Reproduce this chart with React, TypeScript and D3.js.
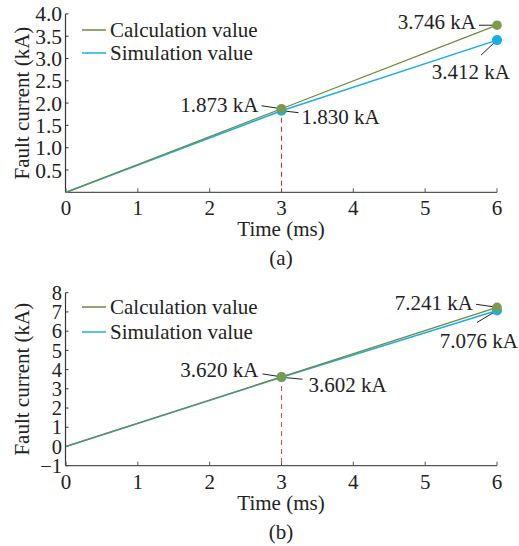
import React from "react";
import * as d3 from "d3";

// time axis (ms)
const timeTicks = [0, 1, 2, 3, 4, 5, 6];

// panel (a)
const timesA = [0, 3, 6];
const calcA = [0, 1.873, 3.746];
const simA = [0, 1.83, 3.412];
const yTicksA = [0.5, 1.0, 1.5, 2.0, 2.5, 3.0, 3.5, 4.0];

// panel (b)
const timesB = [0, 3, 6];
const calcB = [0, 3.62, 7.241];
const simB = [0, 3.602, 7.076];
const yTicksB = [-1, 0, 1, 2, 3, 4, 5, 6, 7, 8];

const GREEN = "#6f8a3c";
const GREEN_DOT = "#7b9a4c";
const BLUE = "#19aee8";
const FONT = "'Liberation Serif', 'Times New Roman', serif";

type Ann = { text: string; t: number; v: number; dx: number; dy: number; anchor: string; lx: number; ly: number };

function Panel({ range, yDomain, yTicks, fmt, times, calc, sim, anns, caption, legY, dash, tickSize }: any) {
  const x = d3.scaleLinear().domain([0, 6]).range([66, 497]);
  const y = d3.scaleLinear().domain(yDomain).range(range);
  const line = d3
    .line<number>()
    .x((_, i) => x(times[i]))
    .y((d) => y(d));
  const y0 = range[0];
  const y1 = range[1];
  const midY = (y0 + y1) / 2;
  return (
    <g fontFamily={FONT} fill="#222">
      {/* axes */}
      <line x1={65.5} x2={65.5} y1={y0} y2={y1} stroke="#333" strokeWidth={1.2} />
      <line x1={65.5} x2={497} y1={y0} y2={y0} stroke="#555" strokeWidth={1.3} />
      {yTicks.map((t: number) => (
        <g key={"y" + t}>
          <line x1={65.5} x2={68.5} y1={y(t)} y2={y(t)} stroke="#333" />
          <text x={62} y={y(t)} dy="0.35em" textAnchor="end" fontSize={tickSize}>
            {fmt(t)}
          </text>
        </g>
      ))}
      {timeTicks.map((t) => (
        <g key={"x" + t}>
          <line x1={x(t)} x2={x(t)} y1={y0} y2={y0 - 4} stroke="#555" />
          <text x={x(t)} y={y0 + 15.5} dy="0.35em" textAnchor="middle" fontSize={21}>
            {t}
          </text>
        </g>
      ))}
      <text x={281} y={y0 + 36.5} dy="0.35em" textAnchor="middle" fontSize={21}>
        Time (ms)
      </text>
      <text x={281} y={y0 + 65.5} dy="0.35em" textAnchor="middle" fontSize={21}>
        {caption}
      </text>
      <text
        transform={`translate(22, ${midY}) rotate(-90)`}
        dy="0.35em"
        textAnchor="middle"
        fontSize={21}
      >
        Fault current (kA)
      </text>
      {/* legend */}
      <line x1={82} x2={106} y1={legY[0]} y2={legY[0]} stroke={GREEN} strokeWidth={1.5} />
      <text x={110} y={legY[0]} dy="0.35em" fontSize={21}>Calculation value</text>
      <line x1={82} x2={106} y1={legY[1]} y2={legY[1]} stroke={BLUE} strokeWidth={1.5} />
      <text x={110} y={legY[1]} dy="0.35em" fontSize={21}>Simulation value</text>
      {/* dashed marker */}
      <line
        x1={x(3)}
        x2={x(3)}
        y1={y(calc[1])}
        y2={y0}
        stroke={dash}
        strokeDasharray="5,4"
        strokeWidth={1.1}
      />
      <path d={line(sim) || ""} fill="none" stroke={BLUE} strokeWidth={1.5} />
      <path d={line(calc) || ""} fill="none" stroke={GREEN} strokeWidth={1.3} />
      {/* leaders and labels */}
      {anns.map((a: Ann, i: number) => (
        <g key={"a" + i}>
          <line x1={x(a.t)} y1={y(a.v)} x2={x(a.t) + a.lx} y2={y(a.v) + a.ly} stroke="#222" strokeWidth={1} />
          <text x={x(a.t) + a.dx} y={y(a.v) + a.dy} dy="0.35em" textAnchor={a.anchor} fontSize={21}>
            {a.text}
          </text>
        </g>
      ))}
      <circle cx={x(6)} cy={y(sim[2])} r={5} fill={BLUE} />
      <circle cx={x(6)} cy={y(calc[2])} r={4.8} fill={GREEN_DOT} />
      <circle cx={x(3)} cy={y(sim[1])} r={5} fill={BLUE} />
      <circle cx={x(3)} cy={y(calc[1])} r={4.8} fill={GREEN_DOT} />
    </g>
  );
}

export default function App() {
  const annsA: Ann[] = [
    { text: "1.873 kA", t: 3, v: calcA[1], dx: -23, dy: -4, anchor: "end", lx: -20, ly: -3 },
    { text: "1.830 kA", t: 3, v: simA[1], dx: 20, dy: 6, anchor: "start", lx: 17, ly: 2 },
    { text: "3.746 kA", t: 6, v: calcA[2], dx: -21, dy: -4, anchor: "end", lx: -18, ly: 0 },
    { text: "3.412 kA", t: 6, v: simA[2], dx: 13, dy: 32, anchor: "end", lx: -16, ly: 15 },
  ];
  const annsB: Ann[] = [
    { text: "3.620 kA", t: 3, v: calcB[1], dx: -23, dy: -7, anchor: "end", lx: -19, ly: -3 },
    { text: "3.602 kA", t: 3, v: simB[1], dx: 27, dy: 7, anchor: "start", lx: 21, ly: 2 },
    { text: "7.241 kA", t: 6, v: calcB[2], dx: -24, dy: -5, anchor: "end", lx: -21, ly: -3 },
    { text: "7.076 kA", t: 6, v: simB[2], dx: 21, dy: 30, anchor: "end", lx: -20, ly: 12 },
  ];
  return (
    <svg
      width={519}
      height={546}
      style={{ position: "absolute", left: 0, top: 0, display: "block", background: "#fff" }}
    >
      <Panel
        range={[192.3, 13.9]}
        yDomain={[0, 4]}
        yTicks={yTicksA}
        fmt={d3.format(".1f")}
        times={timesA}
        calc={calcA}
        sim={simA}
        anns={annsA}
        caption="(a)"
        legY={[30, 53]}
        dash="#b8323a"
        tickSize={21.5}
      />
      <Panel
        range={[465.7, 292.7]}
        yDomain={[-1, 8]}
        yTicks={yTicksB}
        fmt={d3.format("d")}
        times={timesB}
        calc={calcB}
        sim={simB}
        anns={annsB}
        caption="(b)"
        legY={[307, 332]}
        dash="#c4545e"
        tickSize={20.5}
      />
    </svg>
  );
}
